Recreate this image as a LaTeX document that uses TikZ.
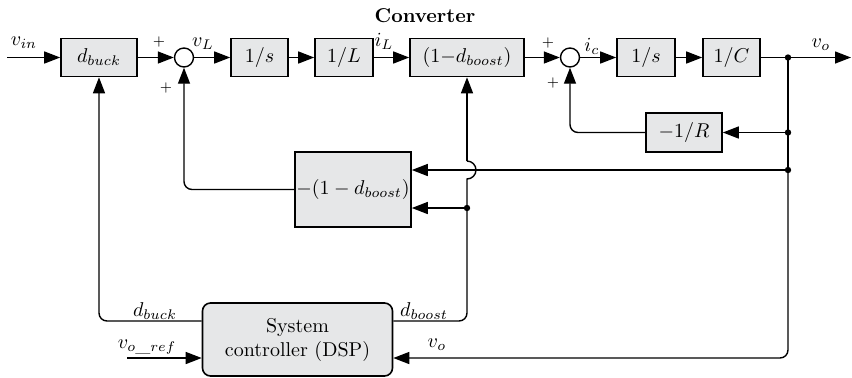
\documentclass[tikz,border=0pt]{standalone}
\usetikzlibrary{arrows.meta}
\definecolor{boxgray}{RGB}{230,231,232}
\begin{document}
\begin{tikzpicture}[x=0.5pt,y=-0.5pt, line width=0.7pt,
 blk/.style={draw, fill=boxgray, line width=0.8pt, inner sep=0pt, minimum height=19pt},
 sumc/.style={draw, circle, fill=white, minimum size=9.5pt, inner sep=0pt},
 arr/.style={-{Triangle[length=8pt,width=6pt]}},
 dotn/.style={circle, fill, inner sep=0pt, minimum size=3.2pt},
 lbl/.style={inner sep=0pt},
 pl/.style={inner sep=0pt, font=\scriptsize}]
\useasboundingbox (0,0) rectangle (852,377);
% blocks
\node[blk, minimum width=38pt] (dbuck) at (99,57.5) {$d_{buck}$};
\node[sumc] (s1) at (184,57.5) {};
\node[blk, minimum width=28.5pt] (is) at (259.5,57.5) {$1/s$};
\node[blk, minimum width=29pt] (iL) at (344,57.5) {$1/L$};
\node[blk, minimum width=57pt] (b) at (467,57.5) {$(1{-}d_{boost})$};
\node[sumc] (s2) at (570,57.5) {};
\node[blk, minimum width=29pt] (is2) at (646,57.5) {$1/s$};
\node[blk, minimum width=28.5pt] (ic) at (731.5,57.5) {$1/C$};
\node[blk, minimum width=38pt, minimum height=19.5pt] (r) at (684,132.5) {$-1/R$};
\node[blk, minimum width=58pt, minimum height=37.5pt] (db) at (353,189.5) {$-(1-d_{boost})$};
\node[blk, rounded corners=4pt, minimum width=95pt, minimum height=36.5pt, align=center] (ctrl) at (297.5,339.5) {System\\controller (DSP)};
% points
\coordinate (vin) at (7,57.5);
\coordinate (out) at (851,57.5);
\node[dotn] (d1) at (788,57.5) {};
\node[dotn] (d2) at (788,132.5) {};
\node[dotn] (d3) at (788,170) {};
\node[dotn] (d4) at (467,208) {};
\coordinate (c1) at (788,358);
\coordinate (cb) at (467,321);
\coordinate (cdb) at (99,321);
\coordinate (vref) at (127,358);
\coordinate (hb) at (467,179);
\coordinate (ht) at (467,161);
% forward path
\draw[arr] (vin) -- (dbuck);
\draw[arr] (dbuck) -- (s1);
\draw[arr] (s1) -- (is);
\draw[arr] (is) -- (iL);
\draw[arr] (iL) -- (b);
\draw[arr] (b) -- (s2);
\draw[arr] (s2) -- (is2);
\draw[arr] (is2) -- (ic);
\draw[arr] (ic) -- (d1.center) -- (out);
% feedback
\draw (d1.center) -- (d2.center) -- (d3.center);
\draw[arr, rounded corners=4pt] (d3.center) -- (c1) -- (ctrl.east |- c1);
\draw[arr] (d2.center) -- (r);
\draw[arr, rounded corners=4pt] (r.west) -- (s2 |- r.west) -- (s2.south);
\draw[arr] (d3.center) -- (db.east |- d3);
\draw[arr] (d4.center) -- (db.east |- d4);
\draw[arr, rounded corners=4pt] (db.west) -- (s1 |- db.west) -- (s1.south);
\draw[rounded corners=4pt] (ctrl.east |- cb) -- (cb) -- (d4.center);
\draw (d4.center) -- (hb) arc[start angle=-90, end angle=90, radius=4.5pt];
\draw[arr] (ht) -- (b.south);
\draw[arr, rounded corners=4pt] (ctrl.west |- cdb) -- (cdb) -- (dbuck.south);
\draw[arr] (vref) -- (ctrl.west |- vref);
% labels
\node[lbl] at (425,16) {\bfseries Converter};
\node[lbl] at (24,43) {$v_{in}$};
\node[pl] at (159,42) {$+$};
\node[pl] at (166,88) {$+$};
\node[lbl] at (203,44) {$v_L$};
\node[lbl] at (384,41) {$i_L$};
\node[pl] at (548,43) {$+$};
\node[pl] at (553,83) {$+$};
\node[lbl] at (592,46) {$i_c$};
\node[lbl] at (821,45) {$v_o$};
\node[lbl] at (155,311) {$d_{buck}$};
\node[lbl] at (424,311) {$d_{boost}$};
\node[lbl] at (147,347) {$v_{o\_ref}$};
\node[lbl] at (437,345) {$v_o$};
\end{tikzpicture}
\end{document}
